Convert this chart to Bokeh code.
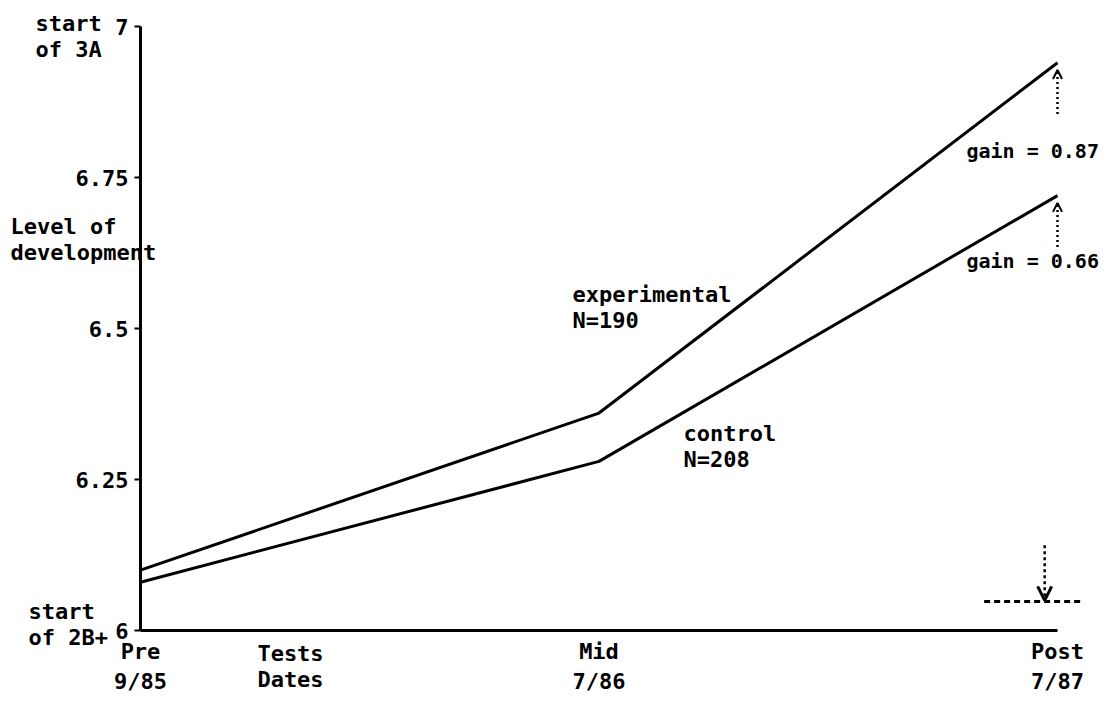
from bokeh.plotting import figure
from bokeh.models import Range1d, FixedTicker, Label, Arrow, OpenHead
from bokeh.embed import file_html
from bokeh.resources import INLINE

# ---- data ----
tests = ["Pre", "Mid", "Post"]
dates = ["9/85", "7/86", "7/87"]
test_pos = [0, 1, 2]
experimental = [6.10, 6.36, 6.94]
control = [6.08, 6.28, 6.72]
y_ticks = [6.0, 6.25, 6.5, 6.75, 7.0]
y_tick_labels = ["6", "6.25", "6.5", "6.75", "7"]
gain_exp = "gain = 0.87"
gain_ctl = "gain = 0.66"

FONT = "DejaVu Sans Mono"
FS = "22px"

W, H = 1103, 704
X0_PX, X2_PX = 140, 1057       # where test 0 and test 2 sit on the page
Y6_PX, Y7_PX = 630, 26         # where level 6 and level 7 sit on the page
sx = (X2_PX - X0_PX) / 2.0
sy = (Y6_PX - Y7_PX) / 1.0

p = figure(width=W, height=H,
           x_range=Range1d(-X0_PX / sx, 2 + (W - X2_PX) / sx),
           y_range=Range1d(6 - (H - Y6_PX) / sy, 7 + Y7_PX / sy),
           output_backend="svg", toolbar_location=None, min_border=0)
p.outline_line_color = None
p.grid.visible = False
p.background_fill_color = "white"
p.border_fill_color = "white"

for ax in (p.xaxis[0], p.yaxis[0]):
    ax.axis_line_width = 3
    ax.axis_line_color = "black"
    ax.major_label_text_font = FONT
    ax.major_label_text_font_style = "bold"
    ax.major_label_text_font_size = FS
    ax.major_label_text_color = "black"
    ax.minor_tick_line_color = None

p.yaxis.fixed_location = 0
p.yaxis.bounds = (6, 7)
p.yaxis.ticker = FixedTicker(ticks=y_ticks)
p.yaxis.major_label_overrides = {t: l for t, l in zip(y_ticks, y_tick_labels)}
p.yaxis.major_tick_out = 6
p.yaxis.major_tick_in = 0
p.yaxis.major_tick_line_width = 2
p.yaxis.major_label_standoff = 6

p.xaxis.fixed_location = 6
p.xaxis.bounds = (0, 2)
p.xaxis.ticker = FixedTicker(ticks=test_pos)
p.xaxis.major_label_overrides = {t: f"{n}\n{d}" for t, n, d in zip(test_pos, tests, dates)}
p.xaxis.major_tick_out = 0
p.xaxis.major_tick_in = 0
p.xaxis.major_label_standoff = 8

p.line(test_pos, experimental, line_color="black", line_width=3)
p.line(test_pos, control, line_color="black", line_width=3)

def lab(px, py, text, align="left", size=FS):
    # annotation text, given by its page position (top-left), converted to data units
    p.add_layout(Label(x=(px - X0_PX) / sx, y=6 + (Y6_PX - py) / sy, text=text,
                       text_font=FONT, text_font_style="bold",
                       text_font_size=size, text_color="black", text_align=align,
                       text_baseline="top", text_line_height=1.05))

lab(35, 10, "start\nof 3A")
lab(28, 598, "start\nof 2B+")
lab(10, 213, "Level of\ndevelopment")
lab(290, 640, "Tests\nDates", align="center")
lab(572, 281, "experimental\nN=190")
lab(683, 420, "control\nN=208")
lab(966, 138, gain_exp, size="20px")
lab(966, 248, gain_ctl, size="20px")

post_x = test_pos[2]
for yv in (experimental[2], control[2]):
    p.add_layout(Arrow(x_start=post_x, y_start=yv - 0.085, x_end=post_x, y_end=yv - 0.012,
                       line_color="black", line_width=2.5, line_dash="2 3",
                       end=OpenHead(size=9, line_width=2, line_color="black")))

p.add_layout(Arrow(x_start=1.972, y_start=6.141, x_end=1.972, y_end=6.05,
                   line_color="black", line_width=2.5, line_dash="3 3",
                   end=OpenHead(size=14, line_width=3, line_color="black")))
p.line([1.84, 2.05], [6.048, 6.048], line_color="black", line_width=3, line_dash="6 4")

open("out.html", "w").write(file_html(p, INLINE))
